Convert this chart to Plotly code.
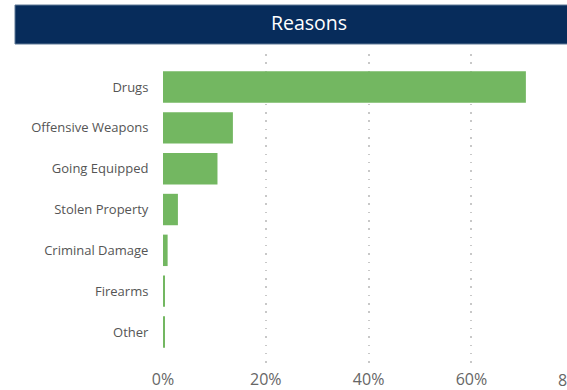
import plotly.graph_objects as go

# Share of stops by reason (%)
reasons = ["Drugs", "Offensive Weapons", "Going Equipped", "Stolen Property",
           "Criminal Damage", "Firearms", "Other"]
shares = [70.6, 13.6, 10.6, 2.9, 0.9, 0.35, 0.25]
tick_values = [0, 20, 40, 60, 80]
tick_labels = ["0%", "20%", "40%", "60%", "80%"]
chart_title = "Reasons"

W, H = 567, 390
L, R, T, B = 163, 0, 54, 27
x_max = 78.6

fig = go.Figure(go.Bar(
    x=shares, y=reasons, orientation="h",
    marker=dict(color="#73B761", line=dict(width=0)),
    hoverinfo="skip",
))

fig.update_layout(
    width=W, height=H,
    margin=dict(l=L, r=R, t=T, b=B, pad=0),
    paper_bgcolor="white", plot_bgcolor="white",
    bargap=0.23,
    showlegend=False,
    font=dict(family="Segoe UI, Open Sans, sans-serif"),
)

fig.update_xaxes(
    range=[0, x_max], automargin=False,
    tickvals=tick_values[:-1], ticktext=tick_labels[:-1],
    showgrid=True, gridcolor="#c8c8c8", gridwidth=1.5, griddash="1.5px,6.8px",
    zeroline=False, showline=False,
    ticks="outside", ticklen=2, tickcolor="rgba(0,0,0,0)",
    tickfont=dict(size=16, color="#666666", family="Segoe UI, Open Sans, sans-serif"),
)

fig.update_yaxes(
    categoryorder="array", categoryarray=reasons,
    range=[6.76, -0.81], automargin=False,
    showgrid=False, zeroline=False, showline=False,
    ticks="outside", ticklen=11, tickcolor="rgba(0,0,0,0)",
    tickfont=dict(size=13, color="#555555", family="Segoe UI, Open Sans, sans-serif"),
)

# Header band with title
plot_w = W - L - R
plot_h = H - T - B
def px_x(p):
    return (p - L) / plot_w
def px_y(p):
    return (H - B - p) / plot_h

fig.add_shape(type="rect", xref="paper", yref="paper",
              x0=px_x(15), x1=px_x(580), y0=px_y(44), y1=px_y(5),
              fillcolor="#072C5B", line=dict(color="#5f7896", width=1),
              layer="above")
fig.add_annotation(xref="paper", yref="paper", x=px_x(309), y=px_y(23),
                   text=chart_title, showarrow=False,
                   font=dict(size=19.5, color="white",
                             family="Segoe UI, Open Sans, sans-serif"),
                   xanchor="center", yanchor="middle")

# Last tick label sits beyond the right edge of the plotting area
fig.add_annotation(xref="paper", yref="paper", x=tick_values[-1] / x_max, y=px_y(380),
                   text=tick_labels[-1], showarrow=False,
                   font=dict(size=16, color="#666666",
                             family="Segoe UI, Open Sans, sans-serif"),
                   xanchor="center", yanchor="middle")

fig.write_html("out.html")
